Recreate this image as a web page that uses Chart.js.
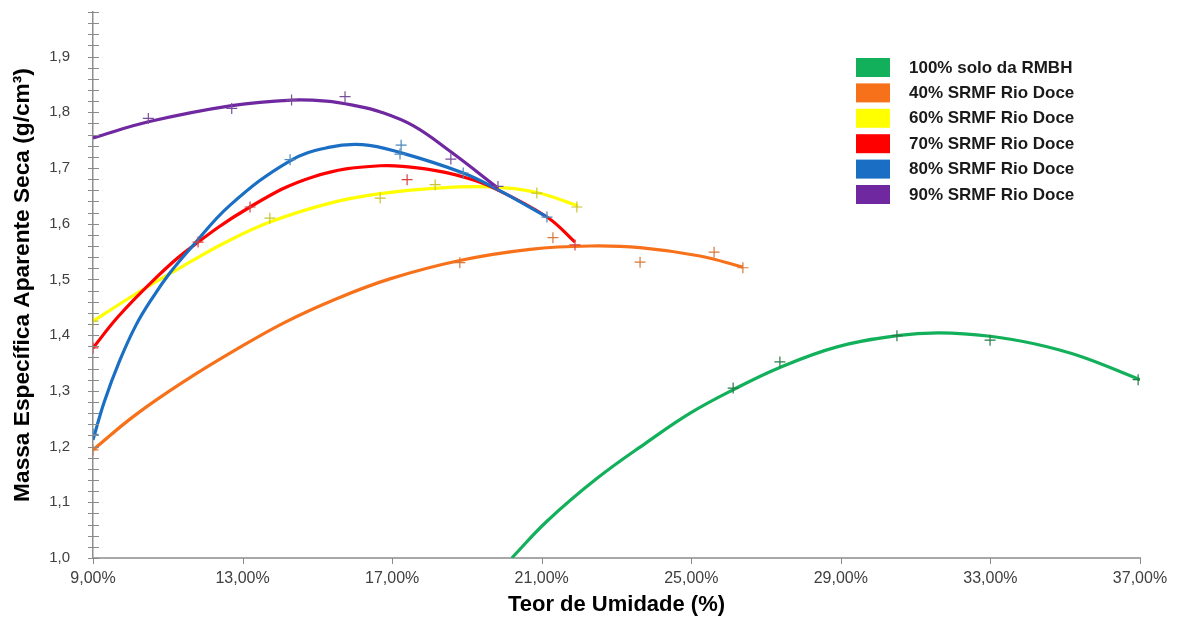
<!DOCTYPE html>
<html lang="pt">
<head>
<meta charset="utf-8">
<title>Curvas de compactação</title>
<script src="https://cdn.jsdelivr.net/npm/chart.js@4.4.1/dist/chart.umd.min.js"></script>
<style>
  html, body { margin: 0; padding: 0; background: #ffffff; }
  #wrap { position: relative; width: 1180px; height: 619px; }
</style>
</head>
<body>
<div id="wrap"><canvas id="chart"></canvas></div>
<script>
// Series names (legend order)
const seriesNames = [
  '100% solo da RMBH',
  '40% SRMF Rio Doce',
  '60% SRMF Rio Doce',
  '70% SRMF Rio Doce',
  '80% SRMF Rio Doce',
  '90% SRMF Rio Doce'
];

// Fitted compaction curves: [teor de umidade (%), massa específica (g/cm³)]
const curveSolo100 = [[20.2, 1.000], [21.14, 1.066], [22.48, 1.143], [23.82, 1.208], [24.97, 1.260],
  [26.12, 1.302], [27.37, 1.342], [28.9, 1.379], [30.5, 1.399], [31.65, 1.404], [32.99, 1.398],
  [34.2, 1.384], [35.4, 1.362], [37.0, 1.320]];
const curveSrmf40 = [[9.0, 1.194], [10.12, 1.256], [11.46, 1.318], [12.80, 1.373], [14.13, 1.423],
  [15.5, 1.465], [16.94, 1.501], [18.81, 1.534], [20.69, 1.554], [22.3, 1.560], [23.63, 1.557],
  [25.23, 1.542], [26.38, 1.522]];
const curveSrmf60 = [[9.0, 1.425], [10.0, 1.468], [10.71, 1.497], [11.46, 1.526], [12.5, 1.565],
  [13.73, 1.603], [15.34, 1.637], [16.68, 1.654], [18.01, 1.663], [19.62, 1.666], [20.87, 1.656],
  [21.97, 1.632]];
const curveSrmf70 = [[9.0, 1.377], [9.67, 1.433], [10.58, 1.496], [11.46, 1.549], [13.2, 1.630],
  [14.88, 1.684], [16.68, 1.704], [18.01, 1.697], [18.9, 1.684], [19.62, 1.667], [21.14, 1.612],
  [21.89, 1.567]];
const curveSrmf80 = [[9.0, 1.212], [9.3, 1.280], [9.7, 1.352], [10.15, 1.418], [10.6, 1.468],
  [11.05, 1.511], [11.6, 1.555], [12.66, 1.633], [14.27, 1.713], [15.3, 1.737], [16.2, 1.742],
  [17.2, 1.728], [18.9, 1.691], [19.8, 1.662], [21.14, 1.612]];
const curveSrmf90 = [[9.0, 1.754], [10.48, 1.783], [12.71, 1.812], [14.31, 1.822], [15.24, 1.820],
  [16.0, 1.812], [16.67, 1.801], [17.56, 1.776], [18.55, 1.730], [19.83, 1.664]];

// Measured compaction points
const pointsSolo100 = [[26.12, 1.305], [27.37, 1.352], [30.5, 1.399], [32.99, 1.391], [36.95, 1.320]];
const pointsSrmf40 = [[9.0, 1.194], [18.81, 1.530], [21.30, 1.575], [23.63, 1.531], [25.61, 1.549], [26.38, 1.521]];
const pointsSrmf60 = [[9.0, 1.425], [13.73, 1.610], [16.68, 1.646], [18.15, 1.670], [20.87, 1.655], [21.94, 1.630]];
const pointsSrmf70 = [[9.0, 1.377], [11.81, 1.567], [13.2, 1.630], [17.40, 1.679], [21.89, 1.562]];
const pointsSrmf80 = [[9.0, 1.222], [14.27, 1.715], [17.21, 1.725], [17.24, 1.741], [18.9, 1.691], [21.14, 1.612]];
const pointsSrmf90 = [[10.48, 1.789], [12.71, 1.807], [14.31, 1.822], [15.74, 1.828], [18.57, 1.716], [19.83, 1.667]];

// Axis settings
const xTicksPercent = [9, 13, 17, 21, 25, 29, 33, 37];
const yRange = [1.0, 1.98];

const lineColors   = ['#12b05a', '#f7711a', '#ffff00', '#ff0000', '#1a6fc4', '#7028a0'];
const markerColors = ['#2a7a48', '#d9783a', '#c9c431', '#d94040', '#4a86bb', '#7a4f9a'];
const curves = [curveSolo100, curveSrmf40, curveSrmf60, curveSrmf70, curveSrmf80, curveSrmf90];
const samples = [pointsSolo100, pointsSrmf40, pointsSrmf60, pointsSrmf70, pointsSrmf80, pointsSrmf90];

const toXY = arr => arr.map(([x, y]) => ({ x, y }));

const datasets = [];
curves.forEach((c, i) => {
  datasets.push({
    label: seriesNames[i],
    data: toXY(c),
    showLine: true,
    borderColor: lineColors[i],
    backgroundColor: lineColors[i],
    borderWidth: 3.2,
    pointRadius: 0,
    tension: 0.4,
    order: 20 - i
  });
});
samples.forEach((s, i) => {
  datasets.push({
    label: seriesNames[i] + ' (pontos)',
    data: toXY(s),
    showLine: false,
    pointStyle: 'cross',
    pointRadius: 5.5,
    pointBorderWidth: 1.2,
    pointBorderColor: markerColors[i],
    pointBackgroundColor: markerColors[i],
    order: 1
  });
});

const fmtComma = (v, d) => v.toFixed(d).replace('.', ',');

// Cross-shaped tick marks on the value axis, short downward ticks on the moisture axis
const axisTicks = {
  id: 'axisTicks',
  afterDraw(chart) {
    const { ctx, chartArea, scales } = chart;
    ctx.save();
    ctx.strokeStyle = '#8a8a8a';
    ctx.lineWidth = 1;
    scales.y.ticks.forEach(t => {
      const py = Math.round(scales.y.getPixelForValue(t.value)) + 0.5;
      ctx.beginPath();
      ctx.moveTo(chartArea.left - 5, py);
      ctx.lineTo(chartArea.left + 6, py);
      ctx.stroke();
    });
    scales.x.ticks.forEach(t => {
      const px = Math.round(scales.x.getPixelForValue(t.value)) + 0.5;
      ctx.beginPath();
      ctx.moveTo(px, chartArea.bottom);
      ctx.lineTo(px, chartArea.bottom + 6);
      ctx.stroke();
    });
    ctx.restore();
  }
};

// Legend block in the upper right of the plot
const sideLegend = {
  id: 'sideLegend',
  afterDraw(chart) {
    const { ctx } = chart;
    ctx.save();
    ctx.font = 'bold 17px "Liberation Sans", Arial, sans-serif';
    ctx.textBaseline = 'middle';
    ctx.textAlign = 'left';
    seriesNames.forEach((name, i) => {
      const y = 58 + i * 25.4;
      ctx.fillStyle = lineColors[i];
      ctx.fillRect(856, y, 34, 19);
      ctx.fillStyle = '#1a1a1a';
      ctx.fillText(name, 909, y + 10);
    });
    ctx.restore();
  }
};

new Chart(document.getElementById('chart'), {
  type: 'scatter',
  data: { datasets },
  options: {
    responsive: true,
    maintainAspectRatio: false,
    animation: false,
    devicePixelRatio: 1,
    layout: { padding: { top: 12, right: 40, left: 0, bottom: 0 } },
    plugins: {
      legend: { display: false },
      tooltip: { enabled: false }
    },
    scales: {
      x: {
        type: 'linear',
        min: xTicksPercent[0],
        max: xTicksPercent[xTicksPercent.length - 1],
        afterBuildTicks: s => { s.ticks = xTicksPercent.map(v => ({ value: v })); },
        afterFit: s => { s.height = 61; s.paddingLeft = 0; s.paddingRight = 0; },
        grid: { display: false },
        border: { display: true, color: '#a8a8a8', width: 2 },
        ticks: {
          padding: 3,
          maxRotation: 0,
          autoSkip: false,
          color: '#404040',
          font: { family: '"Liberation Sans", Arial, sans-serif', size: 16 },
          callback: v => fmtComma(v, 2) + '%'
        },
        title: {
          display: true,
          text: 'Teor de Umidade (%)',
          color: '#000000',
          font: { family: '"Liberation Sans", Arial, sans-serif', size: 22, weight: 'bold' },
          padding: { top: 0, bottom: 1 }
        }
      },
      y: {
        type: 'linear',
        min: yRange[0],
        max: yRange[1],
        afterBuildTicks: s => {
          const t = [];
          for (let k = 0; k <= 49; k++) t.push({ value: +(yRange[0] + k * 0.02).toFixed(2) });
          s.ticks = t;
        },
        afterFit: s => { s.width = 93; s.paddingTop = 0; s.paddingBottom = 0; },
        grid: { display: false },
        border: { display: true, color: '#8f8f8f', width: 1.5 },
        ticks: {
          padding: 15,
          autoSkip: false,
          color: '#404040',
          font: { family: '"Liberation Sans", Arial, sans-serif', size: 15 },
          callback: v => (Math.round(v * 100) % 10 === 0 ? fmtComma(v, 1) : '')
        },
        title: {
          display: true,
          text: 'Massa Específica Aparente Seca (g/cm³)',
          color: '#000000',
          font: { family: '"Liberation Sans", Arial, sans-serif', size: 22.7, weight: 'bold' },
          padding: { top: 9, bottom: 0 }
        }
      }
    }
  },
  plugins: [axisTicks, sideLegend]
});
</script>
</body>
</html>
